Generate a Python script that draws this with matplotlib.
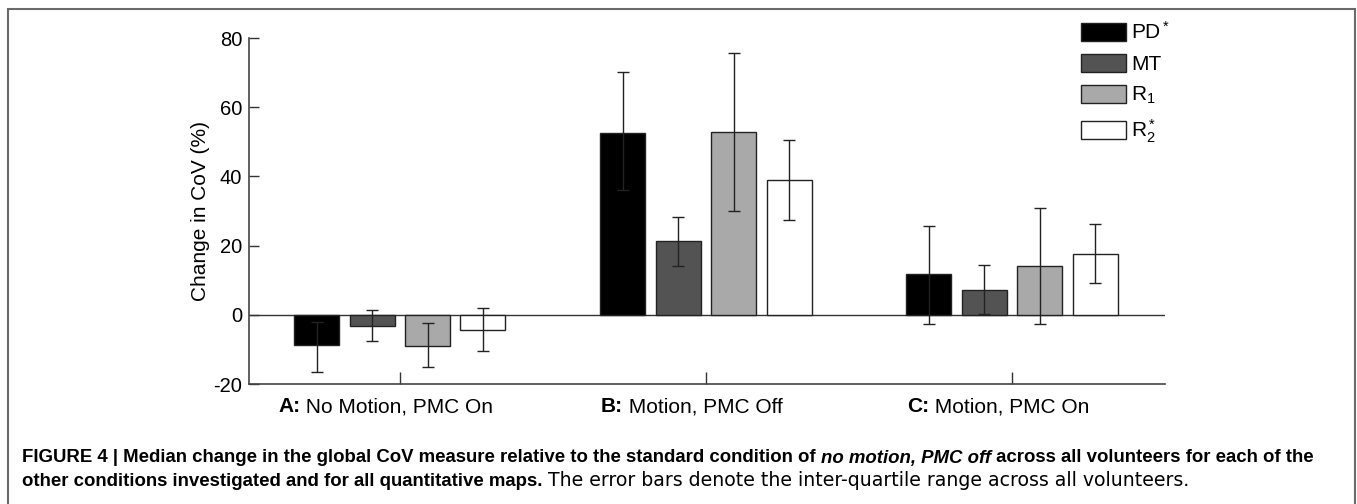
import numpy as np
import matplotlib
matplotlib.use("Agg")
import matplotlib.pyplot as plt
from matplotlib.patches import Rectangle

plt.rcParams['font.family'] = ['Liberation Sans', 'DejaVu Sans']
plt.rcParams['mathtext.fontset'] = 'custom'
plt.rcParams['mathtext.rm'] = 'Liberation Sans'
plt.rcParams['mathtext.it'] = 'Liberation Sans:italic'
plt.rcParams['mathtext.bf'] = 'Liberation Sans:bold'
plt.rcParams['axes.unicode_minus'] = False

# condition groups and quantitative maps
cond_keys = ["A:", "B:", "C:"]
cond_names = [" No Motion, PMC On", " Motion, PMC Off", " Motion, PMC On"]
maps = ["PD$^*$", "MT", "R$_1$", "R$_2^*$"]
colors = ["#000000", "#535353", "#a9a9a9", "#ffffff"]

# median change (%) per map, one value per condition
pd_med = [-8.7, 52.5, 11.8]
mt_med = [-3.1, 21.4, 7.1]
r1_med = [-9.1, 52.8, 14.1]
r2_med = [-4.4, 39.0, 17.6]

# inter-quartile range (lower, upper)
pd_q1 = [-16.4, 36.0, -2.6]
pd_q3 = [-2.0, 70.2, 25.8]
mt_q1 = [-7.6, 14.0, 0.2]
mt_q3 = [1.5, 28.4, 14.5]
r1_q1 = [-15.1, 29.9, -2.6]
r1_q3 = [-2.4, 75.7, 30.8]
r2_q1 = [-10.6, 27.5, 9.2]
r2_q3 = [2.0, 50.5, 26.2]

medians = [pd_med, mt_med, r1_med, r2_med]
lows = [pd_q1, mt_q1, r1_q1, r2_q1]
highs = [pd_q3, mt_q3, r1_q3, r2_q3]

W, H = 1357, 504
fig = plt.figure(figsize=(W / 100, H / 100), dpi=100)
ax = fig.add_axes([249 / W, (H - 384) / H, (1165 - 249) / W, (384 - 38) / H])

x = np.arange(1, len(cond_keys) + 1)
step = 0.181
width = 0.147
bars = []
for i, (med, lo, hi) in enumerate(zip(medians, lows, highs)):
    pos = x + (i - 1.5) * step
    med = np.array(med)
    yerr = [med - np.array(lo), np.array(hi) - med]
    b = ax.bar(pos, med, width, color=colors[i], edgecolor="#222222",
               linewidth=1.0, zorder=2)
    ax.errorbar(pos, med, yerr=yerr, fmt="none", ecolor="#222222",
                elinewidth=1.0, capsize=4, capthick=1.0, zorder=3)
    bars.append(b)

ax.axhline(0, color="#333333", lw=1.0, zorder=1)
ax.set_xlim(0.507, 3.5)
ax.set_ylim(-20, 80)
ax.set_yticks([-20, 0, 20, 40, 60, 80])
ax.set_xticks(x)
ax.set_xticklabels([])
ax.tick_params(axis="y", direction="in", length=7, width=1, colors="#333333",
               labelcolor="black", labelsize=14.5, pad=5)
ax.tick_params(axis="x", direction="in", length=9, width=1, colors="#333333")
for s in ["top", "right"]:
    ax.spines[s].set_visible(False)
for s in ["left", "bottom"]:
    ax.spines[s].set_color("#444444")
    ax.spines[s].set_linewidth(1.2)
ax.set_ylabel("Change in CoV (%)", fontsize=15, labelpad=2)

fig.legend(bars, maps, loc="upper left", bbox_to_anchor=(1081 / W, 1 - 21 / H),
           frameon=False, fontsize=15, handlelength=2.16, handleheight=0.96,
           handletextpad=0.25, labelspacing=0.52, borderaxespad=0, borderpad=0)

# panel border
fig.patches.append(Rectangle((7.5 / W, -0.1), (1355 - 7.5) / W, 1.1 - 9.5 / H,
                             transform=fig.transFigure, fill=False,
                             edgecolor="#6a6a6a", lw=1.5))

fig.canvas.draw()
renderer = fig.canvas.get_renderer()


def put_pieces(pieces, x0, y0, center=False):
    texts = []
    xp = x0
    for txt, weight, style, size, fam in pieces:
        t = fig.text(xp / W, 1 - y0 / H, txt, fontsize=size, weight=weight,
                     style=style, va="center", ha="left", family=fam)
        xp += t.get_window_extent(renderer).width
        texts.append(t)
    if center:
        shift = (xp - x0) / 2
        for t in texts:
            px, py = t.get_position()
            t.set_position((px - shift / W, py))


SANS = ['Liberation Sans', 'DejaVu Sans']
WIDE = ['DejaVu Sans']

# category labels under each group
for xi, key, name in zip(x, cond_keys, cond_names):
    xpix = ax.transData.transform((xi, 0))[0] - 14
    put_pieces([(key, "bold", "normal", 15, SANS),
                (name, "normal", "normal", 15, SANS)],
               xpix, 407, center=True)

# caption, drawn piece by piece for the mixed styles
put_pieces([("FIGURE 4 | Median change in the global CoV measure relative to the standard condition of ", "bold", "normal", 13.4, SANS),
            ("no motion, PMC off", "bold", "italic", 13.4, SANS),
            (" across all volunteers for each of the", "bold", "normal", 13.4, SANS)], 22, 458)
put_pieces([("other conditions investigated and for all quantitative maps.", "bold", "normal", 13.4, SANS),
            (" The error bars denote the inter-quartile range across all volunteers.", "normal", "normal", 13.6, WIDE)], 22, 481)

fig.savefig("out.png", dpi=100)
